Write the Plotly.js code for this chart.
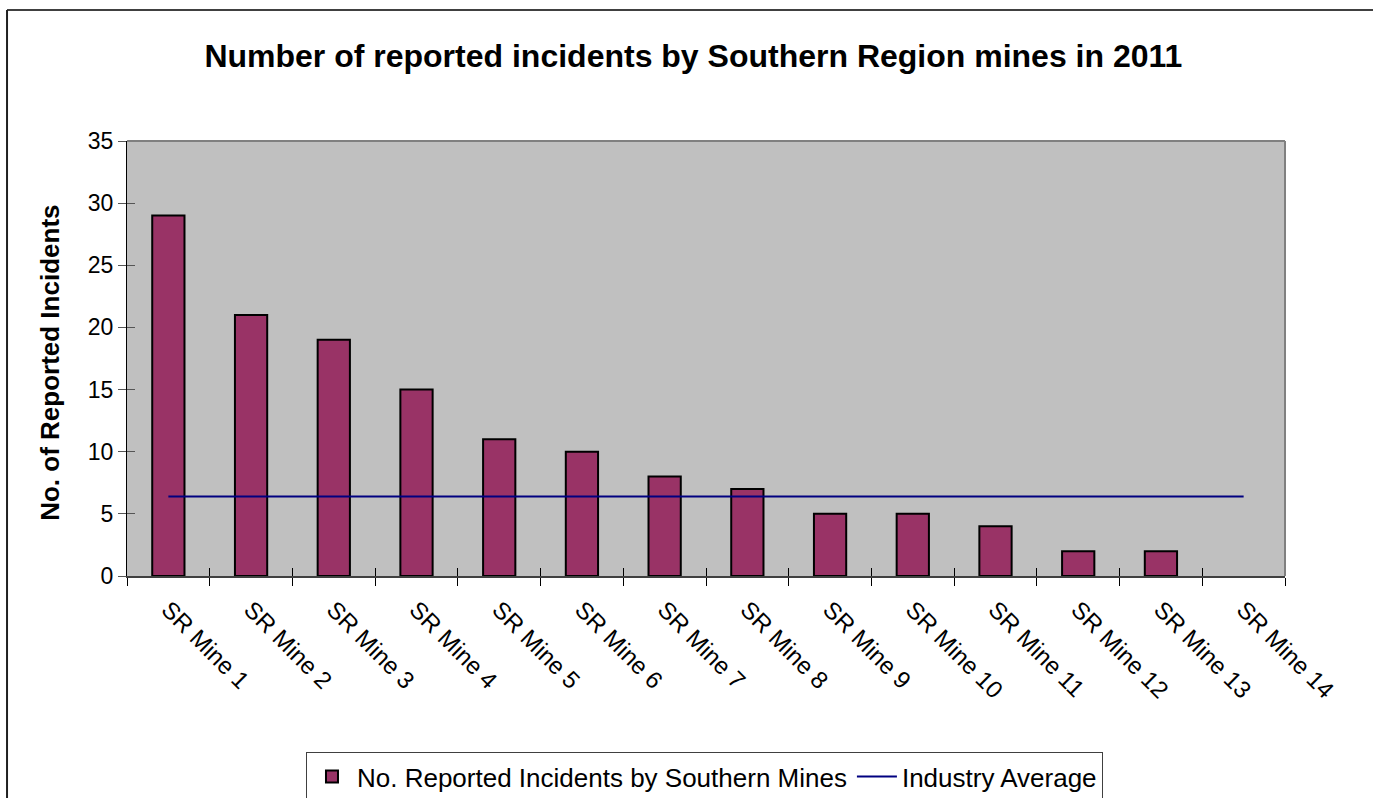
<!DOCTYPE html>
<html>
<head>
<meta charset="utf-8">
<script src="https://cdn.plot.ly/plotly-3.0.1.min.js"></script>
<style>html,body{margin:0;padding:0;background:#fff;}#chart{width:1373px;height:798px;}</style>
</head>
<body>
<div id="chart"></div>
<script>
const categories = ["SR Mine 1","SR Mine 2","SR Mine 3","SR Mine 4","SR Mine 5","SR Mine 6","SR Mine 7","SR Mine 8","SR Mine 9","SR Mine 10","SR Mine 11","SR Mine 12","SR Mine 13","SR Mine 14"];
const incidents = [29,21,19,15,11,10,8,7,5,5,4,2,2,0];
const industryAverage = [6.4,6.4,6.4,6.4,6.4,6.4,6.4,6.4,6.4,6.4,6.4,6.4,6.4,6.4];
const yTicks = [0,5,10,15,20,25,30,35];

const font = "Liberation Sans, Arial, sans-serif";
const traces = [
  {type:'bar', x:categories, y:incidents, name:'No. Reported Incidents by Southern Mines',
   marker:{color:'#993366', line:{color:'#000000', width:incidents.map(v => v > 0 ? 2 : 0)}}, width:0.39},
  {type:'scatter', mode:'lines', x:categories, y:industryAverage, name:'Industry Average',
   line:{color:'#000080', width:2}},
  {type:'scatter', mode:'lines', x:categories, y:categories.map(() => null), xaxis:'x2', yaxis:'y2',
   showlegend:false, hoverinfo:'skip'}
];
const layout = {
  width:1373, height:798,
  margin:{l:127, r:88, t:141, b:222},
  paper_bgcolor:'#ffffff', plot_bgcolor:'#c0c0c0',
  font:{family:font, color:'#000', size:23},
  title:{text:'<b>Number of reported incidents by Southern Region mines in 2011</b>',
    font:{family:font, size:32, color:'#000'}, x:0.505, xref:'container', y:0.93, yref:'container', yanchor:'middle'},
  showlegend:true,
  legend:{orientation:'h', xref:'container', yref:'container', x:0.5131, xanchor:'center', y:0.0576, yanchor:'top',
    bordercolor:'#404040', borderwidth:1, bgcolor:'#fff', font:{family:font, size:26},
    traceorder:'normal', itemwidth:40, tracegroupgap:0},
  xaxis:{type:'category', tickangle:45, showgrid:false, zeroline:false, automargin:false,
    showline:true, linecolor:'#404040', linewidth:2,
    ticks:'outside', ticklen:8, tickcolor:'#000', tickson:'boundaries', ticklabelstandoff:8,
    tickfont:{family:font, size:24}, range:[-0.5,13.5]},
  xaxis2:{type:'category', overlaying:'x', side:'bottom', anchor:'y', showgrid:false, zeroline:false, automargin:false,
    showline:false, ticks:'inside', ticklen:8, tickcolor:'#000', tickson:'boundaries',
    showticklabels:false, range:[-0.5,13.5], categoryarray:categories, categoryorder:'array'},
  yaxis:{range:[0,35], tickvals:yTicks, showgrid:false, zeroline:false, automargin:false,
    showline:true, linecolor:'#000', linewidth:1,
    ticks:'outside', ticklen:8, tickcolor:'#555', tickfont:{family:font, size:23}},
  yaxis2:{range:[0,35], tickvals:yTicks, overlaying:'y', side:'left', anchor:'x', showgrid:false, zeroline:false, automargin:false,
    showline:false, ticks:'inside', ticklen:8, tickcolor:'#555', showticklabels:false},
  shapes:[
    {type:'line', xref:'paper', yref:'paper', x0:0, x1:1, y0:1, y1:1, line:{color:'#808080', width:2}},
    {type:'line', xref:'paper', yref:'paper', x0:1, x1:1, y0:0, y1:1, line:{color:'#808080', width:2}},
    {type:'line', xref:'paper', yref:'paper', x0:-0.1036, x1:1.2, y0:1.301, y1:1.301, line:{color:'#404040', width:2}},
    {type:'line', xref:'paper', yref:'paper', x0:-0.1036, x1:-0.1036, y0:1.301, y1:-0.6, line:{color:'#202020', width:2}}
  ],
  annotations:[
    {text:'<b>No. of Reported Incidents</b>', xref:'paper', yref:'paper', x:-0.0665, y:0.49,
     textangle:-90, showarrow:false, font:{family:font, size:26, color:'#000'}, xanchor:'center', yanchor:'middle'}
  ]
};
Plotly.newPlot('chart', traces, layout, {displayModeBar:false});
</script>
</body>
</html>
